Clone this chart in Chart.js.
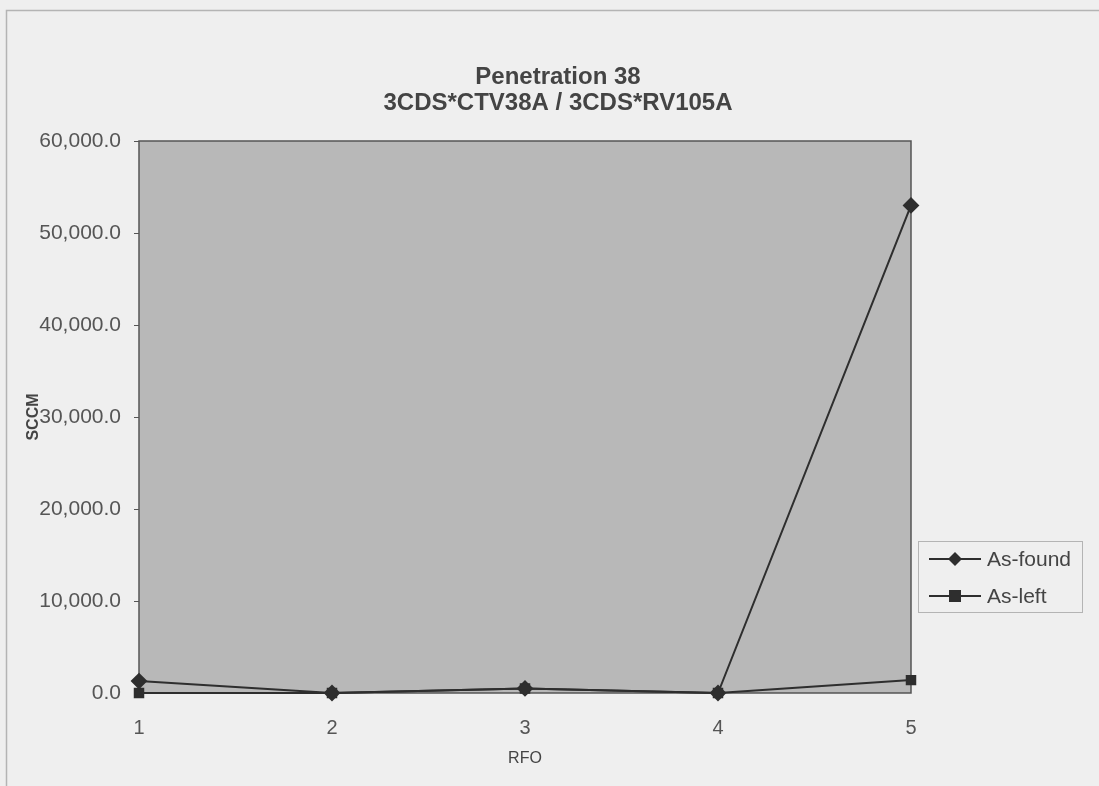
<!DOCTYPE html>
<html>
<head>
<meta charset="utf-8">
<script src="https://cdn.jsdelivr.net/npm/chart.js@4.4.1/dist/chart.umd.min.js"></script>
<style>
  html, body { margin: 0; padding: 0; background: #efefef; }
  #wrap { width: 1099px; height: 786px; position: relative; }
</style>
</head>
<body>
<div id="wrap"><canvas id="leak-chart"></canvas></div>
<script>
/* Penetration 38 leak rate history (SCCM) per RFO */

const rfoLabels = ['1', '2', '3', '4', '5'];
const asFound = [1300, 0, 500, 0, 53000];
const asLeft = [0, 0, 500, 0, 1400];
const yTickMin = 0;
const yTickMax = 60000;
const yTickStep = 10000;
const titleLines = ['Penetration 38', '3CDS*CTV38A / 3CDS*RV105A'];
const seriesNames = ['As-found', 'As-left'];

const FONT = "'Liberation Sans', Arial, sans-serif";
const INK = '#2e2e2e';

const frame = {
    id: 'frame',
    beforeDraw(chart) {
        const { ctx, chartArea: a } = chart;
        ctx.save();
        ctx.fillStyle = '#efefef';
        ctx.fillRect(0, 0, chart.width, chart.height);
        // outer chart border
        ctx.strokeStyle = '#b4b4b4';
        ctx.lineWidth = 1.5;
        ctx.strokeRect(6.5, 10.5, chart.width + 20, chart.height + 20);
        // plot area
        ctx.fillStyle = '#b8b8b8';
        ctx.fillRect(a.left, a.top, a.width, a.height);
        ctx.strokeStyle = '#555';
        ctx.lineWidth = 1.5;
        ctx.strokeRect(a.left, a.top, a.width, a.height);
        ctx.restore();
    },
    afterDraw(chart) {
        const { ctx } = chart;
        ctx.save();
        // title
        ctx.fillStyle = '#444';
        ctx.font = `bold 24px ${FONT}`;
        ctx.textAlign = 'center';
        ctx.textBaseline = 'middle';
        titleLines.forEach((t, i) => ctx.fillText(t, 558, 77 + i * 26));

        // legend
        ctx.strokeStyle = '#b4b4b4';
        ctx.lineWidth = 1;
        ctx.strokeRect(918.5, 541.5, 164, 71);
        const styles = ['rectRot', 'rect'];
        seriesNames.forEach((name, i) => {
            const y = 559 + i * 37;
            ctx.strokeStyle = INK;
            ctx.lineWidth = 2;
            ctx.beginPath();
            ctx.moveTo(929, y);
            ctx.lineTo(981, y);
            ctx.stroke();
            ctx.fillStyle = INK;
            ctx.beginPath();
            if (styles[i] === 'rectRot') {
                ctx.moveTo(955, y - 7);
                ctx.lineTo(962, y);
                ctx.lineTo(955, y + 7);
                ctx.lineTo(948, y);
                ctx.closePath();
            } else {
                ctx.rect(949, y - 6, 12, 12);
            }
            ctx.fill();
            ctx.fillStyle = '#444';
            ctx.font = `21px ${FONT}`;
            ctx.textAlign = 'left';
            ctx.fillText(name, 987, y + 1);
        });
        ctx.restore();
    }
};

const ctx = document.getElementById('leak-chart').getContext('2d');
new Chart(ctx, {
    type: 'line',
    data: {
        labels: rfoLabels,
        datasets: [{
            label: seriesNames[0],
            data: asFound,
            borderColor: INK,
            backgroundColor: INK,
            borderWidth: 2,
            pointStyle: 'rectRot',
            pointRadius: 7,
            tension: 0,
            clip: false
        }, {
            label: seriesNames[1],
            data: asLeft,
            borderColor: INK,
            backgroundColor: INK,
            borderWidth: 2,
            pointStyle: 'rect',
            pointRadius: 6,
            tension: 0,
            clip: false
        }]
    },
    options: {
        responsive: true,
        maintainAspectRatio: false,
        animation: false,
        layout: { padding: { left: 0, top: 141, right: 188, bottom: 0 } },
        plugins: {
            legend: { display: false },
            title: { display: false },
            tooltip: { enabled: false }
        },
        scales: {
            x: {
                type: 'category',
                offset: false,
                grid: { display: true, drawOnChartArea: false, tickLength: 0 },
                border: { display: false },
                ticks: { color: '#555', font: { family: FONT, size: 20 }, padding: 23, maxRotation: 0 },
                title: {
                    display: true,
                    text: 'RFO',
                    color: '#444',
                    font: { family: FONT, size: 16 },
                    padding: { top: 0, bottom: 18 }
                },
                afterFit(scale) { scale.height = 93; }
            },
            y: {
                min: yTickMin,
                max: yTickMax,
                grid: { display: true, drawOnChartArea: false, tickLength: 5, color: '#555' },
                border: { display: false },
                ticks: {
                    stepSize: yTickStep,
                    color: '#555',
                    font: { family: FONT, size: 21 },
                    padding: 13,
                    callback: (v) => v.toLocaleString('en-US', { minimumFractionDigits: 1, maximumFractionDigits: 1 })
                },
                title: {
                    display: true,
                    text: 'SCCM',
                    color: '#444',
                    font: { family: FONT, size: 16, weight: 'bold' },
                    padding: { top: 24, bottom: 0 }
                },
                afterFit(scale) { scale.width = 139; }
            }
        }
    },
    plugins: [frame]
});
</script>
</body>
</html>
